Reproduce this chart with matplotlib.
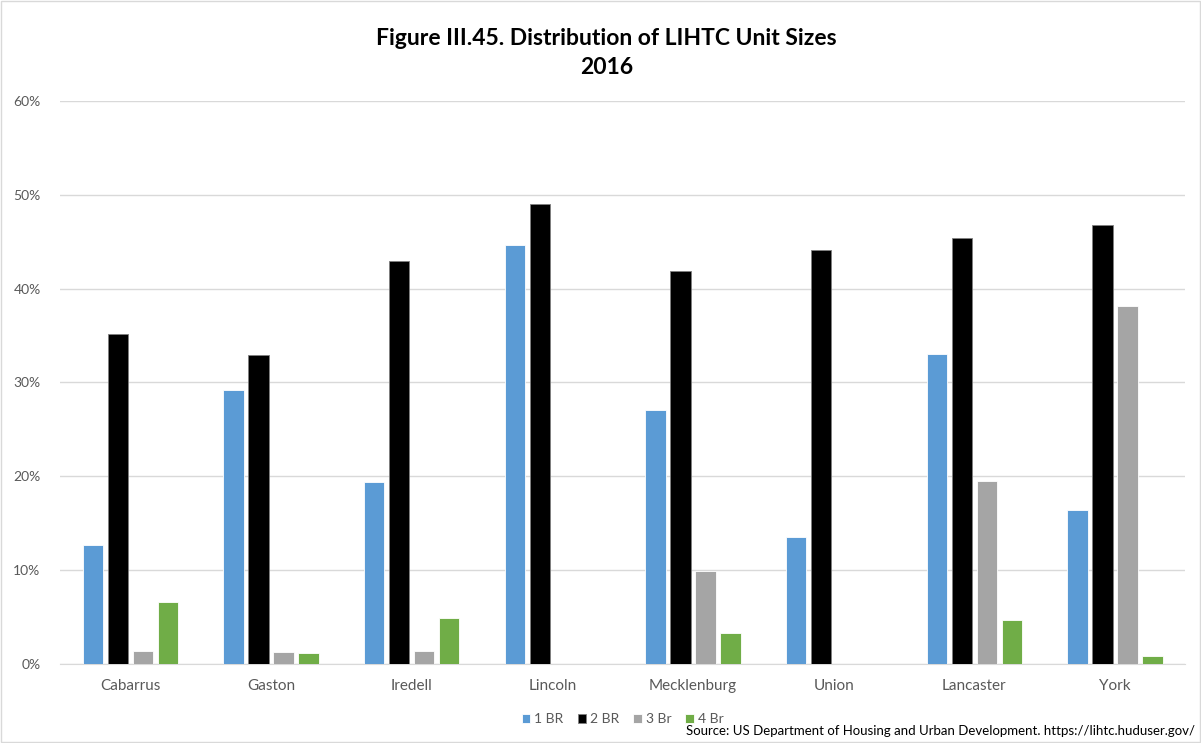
import numpy as np
import matplotlib
matplotlib.use("Agg")
import matplotlib.pyplot as plt
from matplotlib.patches import Rectangle
from matplotlib.ticker import PercentFormatter

plt.rcParams['font.family'] = ['Lato', 'DejaVu Sans']

counties = ["Cabarrus", "Gaston", "Iredell", "Lincoln", "Mecklenburg", "Union", "Lancaster", "York"]
br1 = [12.7, 29.2, 19.4, 44.6, 27.1, 13.5, 33.0, 16.4]
br2 = [35.2, 32.9, 42.9, 49.0, 41.9, 44.1, 45.4, 46.8]
br3 = [1.4, 1.3, 1.4, 0.0, 9.9, 0.0, 19.5, 38.2]
br4 = [6.6, 1.2, 4.9, 0.0, 3.3, 0.0, 4.7, 0.9]
series_names = ["1 BR", "2 BR", "3 Br", "4 Br"]
colors = ["#5B9BD5", "#000000", "#A5A5A5", "#70AD47"]

fig = plt.figure(figsize=(12.01, 7.43), dpi=100)
ax = fig.add_axes([0.05, 0.1063, 0.937, 0.7578])

x = np.arange(len(counties))
step = 0.178
width = 0.145
for i, (vals, name, col) in enumerate(zip([br1, br2, br3, br4], series_names, colors)):
    edge = "#7F7F7F" if col == "#000000" else "white"
    ax.bar(x + (i - 1.5) * step, vals, width, color=col, label=name,
           edgecolor=edge, linewidth=0.6, zorder=3)

ax.set_xlim(-0.5, len(counties) - 0.5)
ax.set_ylim(0, 60)
ax.set_yticks(np.arange(0, 61, 10))
ax.yaxis.set_major_formatter(PercentFormatter(decimals=0))
ax.set_xticks(x)
ax.set_xticklabels(counties)
ax.tick_params(axis='both', length=0, colors="#595959")
ax.tick_params(axis='x', labelsize=11, pad=11)
ax.tick_params(axis='y', labelsize=10, pad=14)
ax.grid(axis='y', color="#D9D9D9", linewidth=1, zorder=0)
for s in ["top", "right", "left"]:
    ax.spines[s].set_visible(False)
ax.spines["bottom"].set_color("#D9D9D9")

# two-line title, centred over the figure
fig.text(0.505, 0.962, "Figure III.45. Distribution of LIHTC Unit Sizes\n2016",
         ha="center", va="top", fontsize=16.5, fontweight="bold", linespacing=1.45)

ax.legend(loc="center", bbox_to_anchor=(0.5, -0.098), ncol=4, frameon=False,
          fontsize=10, handlelength=0.6, handleheight=0.6, handletextpad=0.3,
          columnspacing=1.0, labelcolor="#595959")

fig.text(0.995, 0.008, "Source: US Department of Housing and Urban Development. https://lihtc.huduser.gov/",
         ha="right", va="bottom", fontsize=9.5)

fig.patches.append(Rectangle((0.001, 0.001), 0.998, 0.998, transform=fig.transFigure,
                             fill=False, edgecolor="#D9D9D9", linewidth=1))

fig.savefig("out.png", dpi=100)
